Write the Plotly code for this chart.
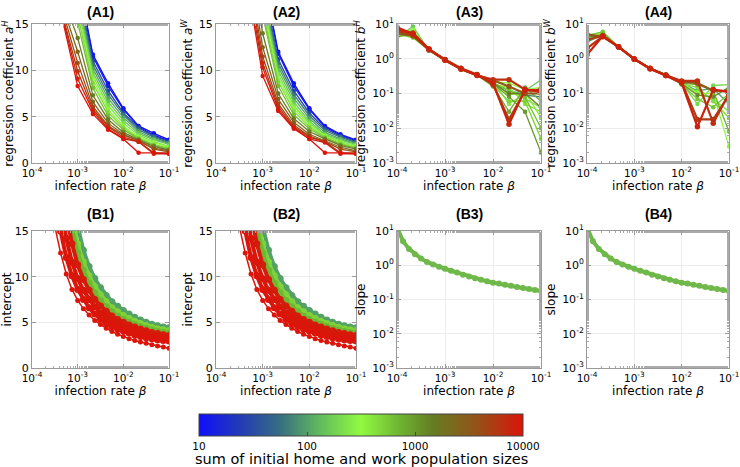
import plotly.graph_objects as go
from plotly.colors import sample_colorscale
import math

# ---------------- data ----------------
beta_a = [1e-4, 2.154e-4, 4.642e-4, 1e-3, 2.154e-3, 4.642e-3, 1e-2, 2.154e-2, 4.642e-2, 1e-1]

a1_sizes = [10, 12, 30, 60, 100, 150, 220, 320, 450, 650, 1500, 2500, 4000, 6000, 8000, 10000]
a1_values = [
    [None, None, None, 20.0, 11.7, 8.6, 5.9, 4.0, 3.2, 2.5],
    [None, None, None, 19.7, 11.5, 8.3, 5.8, 3.9, 3.0, 2.4],
    [None, None, None, 19.0, 11.0, 7.8, 5.4, 3.8, 2.9, 2.3],
    [None, None, None, 18.5, 10.6, 7.4, 5.2, 3.6, 2.8, 2.2],
    [None, None, None, 18.0, 10.2, 7.0, 4.9, 3.4, 2.6, 2.1],
    [None, None, None, 17.5, 9.8, 6.6, 4.6, 3.2, 2.5, 2.0],
    [None, None, None, 17.0, 9.4, 6.2, 4.3, 3.0, 2.3, 1.8],
    [None, None, None, 16.5, 9.0, 5.8, 4.0, 2.8, 2.2, 1.7],
    [None, None, None, 16.0, 8.6, 5.5, 3.8, 2.7, 2.0, 1.6],
    [None, None, None, 15.2, 8.1, 5.1, 3.6, 2.6, 1.9, 1.5],
    [None, None, 18.0, 13.5, 7.3, 4.7, 3.3, 2.5, 1.8, 1.4],
    [None, None, 17.0, 12.0, 6.6, 4.3, 3.1, 2.4, 1.6, 1.3],
    [None, None, 16.5, 10.8, 6.1, 4.0, 3.0, 2.4, 1.5, 1.2],
    [None, None, 16.0, 9.9, 5.8, 3.9, 2.8, 2.3, 1.1, 1.1],
    [None, None, 15.8, 9.1, 5.6, 3.7, 2.6, 2.3, 1.0, 1.0],
    [None, None, 15.5, 8.3, 5.3, 3.6, 2.6, 1.1, 1.1, 1.0],
]

a2_sizes = [10, 12, 30, 60, 100, 150, 220, 320, 450, 650, 1500, 2500, 4000, 6000, 8000, 10000]
a2_values = [
    [None, None, None, 20.5, 12.0, 8.6, 5.9, 4.0, 3.1, 2.5],
    [None, None, None, 20.2, 11.8, 8.3, 5.8, 3.9, 3.0, 2.4],
    [None, None, None, 19.5, 11.2, 7.8, 5.4, 3.7, 2.9, 2.3],
    [None, None, None, 19.0, 10.8, 7.4, 5.1, 3.5, 2.8, 2.2],
    [None, None, None, 18.5, 10.4, 7.0, 4.8, 3.3, 2.6, 2.1],
    [None, None, None, 18.0, 10.0, 6.6, 4.5, 3.1, 2.5, 2.0],
    [None, None, None, 17.5, 9.6, 6.2, 4.3, 3.0, 2.3, 1.9],
    [None, None, None, 17.0, 9.2, 5.9, 4.1, 2.9, 2.2, 1.8],
    [None, None, None, 16.5, 8.8, 5.6, 3.9, 2.8, 2.1, 1.7],
    [None, None, None, 16.0, 8.3, 5.2, 3.7, 2.7, 2.0, 1.6],
    [None, None, 24.0, 14.0, 7.5, 4.8, 3.4, 2.6, 1.9, 1.5],
    [None, None, 23.0, 12.5, 6.9, 4.4, 3.1, 2.4, 1.7, 1.3],
    [None, None, 22.0, 11.5, 6.4, 4.1, 2.9, 2.3, 1.5, 1.2],
    [None, None, 21.0, 10.8, 6.1, 3.9, 2.8, 2.3, 1.1, 1.1],
    [None, None, 20.0, 10.3, 5.8, 3.8, 2.6, 2.2, 1.0, 1.0],
    [None, None, 19.5, 9.4, 5.6, 3.7, 2.6, 1.1, 1.1, 1.0],
]

a3_sizes = [60, 150, 200, 250, 300, 350, 400, 500, 600, 800, 1000, 1500, 3500, 5000, 6500, 8000]
a3_values = [
    [5.0, 4.8, 1.8, 0.92, 0.51, 0.34, 0.20, 0.12, 0.09, 0.08],
    [4.0, 8.5, 1.7, 0.90, 0.50, 0.33, 0.20, 0.10, 0.12, 0.25],
    [4.6, 6.5, 1.75, 0.91, 0.51, 0.33, 0.19, 0.13, 0.07, 0.04],
    [4.5, 6.0, 1.8, 0.92, 0.51, 0.34, 0.22, 0.05, 0.10, 0.10],
    [5.2, 7.0, 1.8, 0.90, 0.50, 0.33, 0.22, 0.20, 0.13, 0.15],
    [5.6, 5.8, 1.85, 0.92, 0.52, 0.34, 0.21, 0.09, 0.11, 0.02],
    [5.0, 4.0, 1.75, 0.90, 0.52, 0.35, 0.18, 0.15, 0.05, 0.03],
    [4.8, 5.2, 1.9, 0.95, 0.53, 0.34, 0.17, 0.06, 0.06, 0.005],
    [6.0, 5.0, 1.9, 0.93, 0.50, 0.33, 0.21, 0.12, 0.08, 0.01],
    [5.5, 4.5, 1.8, 0.91, 0.51, 0.34, 0.16, 0.03, 0.15, 0.06],
    [4.2, 5.5, 1.85, 0.94, 0.52, 0.35, 0.19, 0.08, 0.03, 0.002],
    [6.0, 5.0, 1.85, 0.93, 0.52, 0.34, 0.20, 0.10, 0.10, 0.04],
    [5.5, 4.5, 1.8, 0.92, 0.51, 0.34, 0.24, 0.16, 0.10, 0.10],
    [7.0, 5.5, 1.9, 0.95, 0.53, 0.35, 0.18, 0.018, 0.12, 0.13],
    [6.5, 5.0, 1.85, 0.90, 0.50, 0.33, 0.25, 0.25, 0.13, 0.11],
    [8.0, 5.2, 1.9, 0.93, 0.52, 0.34, 0.20, 0.013, 0.13, 0.12],
]

a4_sizes = [100, 200, 250, 300, 450, 600, 800, 1200, 3500, 5000, 6500, 8000]
a4_values = [
    [3.0, 4.9, 2.15, 0.98, 0.53, 0.33, 0.20, 0.12, 0.14, 0.05],
    [4.5, 6.0, 2.2, 1.00, 0.53, 0.34, 0.20, 0.05, 0.17, 0.18],
    [4.1, 5.3, 2.2, 0.99, 0.52, 0.34, 0.19, 0.11, 0.07, 0.03],
    [3.8, 5.5, 2.25, 1.00, 0.54, 0.35, 0.21, 0.10, 0.10, 0.003],
    [4.0, 5.2, 2.2, 0.99, 0.52, 0.34, 0.19, 0.15, 0.06, 0.02],
    [4.8, 5.8, 2.2, 1.00, 0.52, 0.34, 0.18, 0.07, 0.04, 0.10],
    [3.5, 5.0, 2.2, 1.00, 0.53, 0.34, 0.20, 0.18, 0.12, 0.008],
    [4.2, 4.7, 2.15, 0.98, 0.52, 0.35, 0.19, 0.09, 0.08, 0.15],
    [5.0, 4.3, 2.2, 0.97, 0.52, 0.33, 0.22, 0.20, 0.12, 0.12],
    [3.5, 4.6, 2.2, 0.99, 0.53, 0.34, 0.21, 0.018, 0.018, 0.09],
    [2.0, 4.4, 2.15, 0.97, 0.51, 0.33, 0.23, 0.23, 0.014, 0.10],
    [1.3, 4.5, 2.2, 0.98, 0.52, 0.33, 0.20, 0.011, 0.13, 0.11],
]

beta_b = [1.0e-4, 1.334e-4, 1.778e-4, 2.371e-4, 3.162e-4, 4.217e-4, 5.623e-4, 7.499e-4,
          1.0e-3, 1.334e-3, 1.778e-3, 2.371e-3, 3.162e-3, 4.217e-3, 5.623e-3, 7.499e-3,
          1.0e-2, 1.334e-2, 1.778e-2, 2.371e-2, 3.162e-2, 4.217e-2, 5.623e-2, 7.499e-2, 1.0e-1]

# intercept curves (B1 / B2), ordered right-most (green) to left-most (red)
b_sizes = [100, 500, 700, 9000, 9500, 9800, 10000]
b_intercept = [
    [None] * 8 + [15.5, 12.9, 11.1, 9.8, 8.8, 7.95, 7.25, 6.75, 6.3, 5.9, 5.55, 5.25, 5.0, 4.8, 4.63, 4.5, 4.4],
    [None] * 7 + [16.5, 13.6, 11.6, 10.1, 8.9, 8.0, 7.25, 6.6, 6.15, 5.75, 5.42, 5.13, 4.88, 4.66, 4.47, 4.31, 4.2, 4.1],
    [None] * 7 + [15.3, 12.6, 10.7, 9.3, 8.2, 7.35, 6.7, 6.15, 5.7, 5.35, 5.05, 4.78, 4.55, 4.35, 4.17, 4.02, 3.9, 3.82],
    [None] * 6 + [17.0, 13.6, 11.3, 9.7, 8.5, 7.5, 6.8, 6.2, 5.7, 5.3, 5.0, 4.72, 4.48, 4.26, 4.07, 3.9, 3.77, 3.65, 3.55],
    [None] * 5 + [18.0, 14.2, 11.6, 9.8, 8.5, 7.5, 6.7, 6.05, 5.55, 5.15, 4.82, 4.55, 4.3, 4.08, 3.88, 3.72, 3.57, 3.45, 3.35, 3.25],
    [None] * 4 + [19.0, 15.0, 12.1, 10.1, 8.6, 7.5, 6.6, 5.9, 5.35, 4.9, 4.55, 4.28, 4.05, 3.82, 3.62, 3.46, 3.32, 3.2, 3.1, 3.02, 2.95],
    [None] * 4 + [15.5, 12.6, 10.3, 8.6, 7.4, 6.5, 5.8, 5.2, 4.75, 4.35, 4.0, 3.7, 3.45, 3.2, 3.0, 2.85, 2.7, 2.55, 2.4, 2.3, 2.15],
]

# slope curve (B3 / B4)
b_slope = [13.0, 5.0, 3.0, 2.1, 1.58, 1.25, 1.05, 0.9, 0.79, 0.69, 0.61, 0.53, 0.47, 0.42, 0.38, 0.34,
           0.31, 0.295, 0.27, 0.25, 0.232, 0.218, 0.203, 0.19, 0.177]

cbar_ticks = [10, 100, 1000, 10000]
cbar_title = "sum of initial home and work population sizes"

# ---------------- styling ----------------
cscale = [
    [0.0, "rgb(15,15,250)"], [0.13, "rgb(35,60,180)"], [0.25, "rgb(55,110,130)"],
    [0.38, "rgb(100,190,90)"], [0.5, "rgb(145,250,65)"], [0.62, "rgb(110,180,50)"],
    [0.72, "rgb(100,125,35)"], [0.85, "rgb(145,85,25)"], [1.0, "rgb(220,20,10)"],
]


def color_for(n):
    t = (math.log10(n) - 1.0) / 3.0
    t = min(max(t, 0.0), 1.0)
    return sample_colorscale(cscale, [t])[0]


W, H = 740, 467
xcols = [(32, 169), (216, 356), (397, 541), (587, 729)]
yrows = [(24, 163), (231, 368)]

FONT = "DejaVu Sans"
fig = go.Figure()


def xd(c):
    return [xcols[c][0] / W, xcols[c][1] / W]


def yd(r):
    return [1 - yrows[r][1] / H, 1 - yrows[r][0] / H]


def sup(e):
    return "10<sup>%d</sup>" % e


axis_common = dict(
    showline=True, mirror="allticks", linecolor="#9a9a9a", linewidth=1,
    ticks="inside", ticklen=4, tickcolor="#9a9a9a", automargin=False,
    showgrid=True, gridcolor="#ececec", gridwidth=1, zeroline=False,
    ticklabeloverflow="allow",
    tickfont=dict(family=FONT, size=11, color="black"),
)

ytitles = {
    1: "regression coefficient <i>a</i><sup><i>H</i></sup>",
    2: "regression coefficient <i>a</i><sup><i>W</i></sup>",
    3: "regression coefficient <i>b</i><sup><i>H</i></sup>",
    4: "regression coefficient <i>b</i><sup><i>W</i></sup>",
    5: "intercept", 6: "intercept", 7: "slope", 8: "slope",
}
ylogs = {1: False, 2: False, 3: True, 4: True, 5: False, 6: False, 7: True, 8: True}
titles = {1: "(A1)", 2: "(A2)", 3: "(A3)", 4: "(A4)", 5: "(B1)", 6: "(B2)", 7: "(B3)", 8: "(B4)"}

layout_axes = {}
annotations = []
for i in range(1, 9):
    c = (i - 1) % 4
    r = (i - 1) // 4
    xn = "xaxis" if i == 1 else "xaxis%d" % i
    yn = "yaxis" if i == 1 else "yaxis%d" % i
    xa = dict(axis_common)
    xa.update(
        domain=xd(c), anchor="y" if i == 1 else "y%d" % i, type="log", range=[-4, -1],
        tickvals=[1e-4, 1e-3, 1e-2, 1e-1], ticktext=[sup(-4), sup(-3), sup(-2), sup(-1)],
        tickfont=dict(family=FONT, size=10.5, color="black"),
        minor=dict(ticks="inside", ticklen=2, tickcolor="#aaaaaa", showgrid=False),
        title=dict(text="infection rate <i>β</i>", font=dict(family=FONT, size=12, color="black"), standoff=0),
    )
    ya = dict(axis_common)
    ya.update(domain=yd(r), anchor="x" if i == 1 else "x%d" % i,
              title=dict(text=ytitles[i], font=dict(family=FONT, size=12, color="black"), standoff=3))
    if ylogs[i]:
        ya.update(type="log", range=[-3, 1], tickvals=[1e-3, 1e-2, 1e-1, 1, 10],
                  ticktext=[sup(-3), sup(-2), sup(-1), sup(0), sup(1)],
                  minor=dict(ticks="inside", ticklen=2, tickcolor="#aaaaaa", showgrid=False))
    else:
        ya.update(range=[0, 15], tickvals=[0, 5, 10, 15])
    layout_axes[xn] = xa
    layout_axes[yn] = ya
    cx = (xcols[c][0] + xcols[c][1]) / 2 / W
    ty = 1 - (12 if r == 0 else 214) / H
    annotations.append(dict(text="<b>%s</b>" % titles[i], x=cx, y=ty, xref="paper", yref="paper",
                            showarrow=False, xanchor="center", yanchor="middle",
                            font=dict(family="Liberation Sans", size=14, color="black")))

annotations.append(dict(text=cbar_title, x=(199 + 523) / 2 / W, y=1 - 459 / H, xref="paper", yref="paper",
                        showarrow=False, xanchor="center", yanchor="middle",
                        font=dict(family=FONT, size=14.5, color="black")))


def ax(i):
    return ("x" if i == 1 else "x%d" % i), ("y" if i == 1 else "y%d" % i)


# A panels
for i, sizes, vals in [(1, a1_sizes, a1_values), (2, a2_sizes, a2_values),
                       (3, a3_sizes, a3_values), (4, a4_sizes, a4_values)]:
    xa_, ya_ = ax(i)
    for n, v in zip(sizes, vals):
        col = color_for(n)
        heavy = (i >= 3 and n >= 3000)
        fig.add_trace(go.Scatter(
            x=beta_a, y=v, mode="lines+markers", xaxis=xa_, yaxis=ya_,
            line=dict(color=col, width=2.2 if heavy else 1.3),
            marker=dict(color=col, size=5.5 if heavy else 4.5),
            showlegend=False, hoverinfo="skip", connectgaps=False))

# B1, B2 intercept
for i in (5, 6):
    xa_, ya_ = ax(i)
    for k, (n, v) in enumerate(zip(b_sizes, b_intercept)):
        col = color_for(n)
        thin = (k == len(b_sizes) - 1)
        fig.add_trace(go.Scatter(
            x=beta_b, y=v, mode="lines+markers", xaxis=xa_, yaxis=ya_,
            line=dict(color=col, width=1.5 if thin else 4),
            marker=dict(color=col, size=5 if thin else 7),
            showlegend=False, hoverinfo="skip"))

# B3, B4 slope
for i in (7, 8):
    xa_, ya_ = ax(i)
    fig.add_trace(go.Scatter(
        x=beta_b, y=b_slope, mode="lines+markers", xaxis=xa_, yaxis=ya_,
        line=dict(color="#6fb84a", width=4), marker=dict(color="#6fb84a", size=6),
        showlegend=False, hoverinfo="skip"))

# colorbar carrier
logt = [math.log10(t) for t in cbar_ticks]
fig.add_trace(go.Scatter(
    x=[1e-4], y=[-100], mode="markers", xaxis="x", yaxis="y",
    marker=dict(color=[2.5], cmin=1, cmax=4, colorscale=cscale, showscale=True, size=1,
                colorbar=dict(orientation="h", x=(199 + 523) / 2 / W, xanchor="center",
                              y=1 - 414 / H, yanchor="top", len=324, lenmode="pixels",
                              thickness=22, thicknessmode="pixels", xpad=0, ypad=0,
                              outlinewidth=1, outlinecolor="#444",
                              tickvals=logt, ticktext=[str(t) for t in cbar_ticks],
                              ticks="inside", ticklen=4, tickcolor="#444",
                              tickfont=dict(family=FONT, size=10.5, color="black"))),
    showlegend=False, hoverinfo="skip"))

fig.update_layout(
    width=W, height=H, margin=dict(l=0, r=0, t=0, b=0, autoexpand=False),
    paper_bgcolor="white", plot_bgcolor="white",
    annotations=annotations, showlegend=False,
    **layout_axes,
)

fig.write_html("out.html", config={"displayModeBar": False},
               post_script="document.body.style.margin='0px';")
